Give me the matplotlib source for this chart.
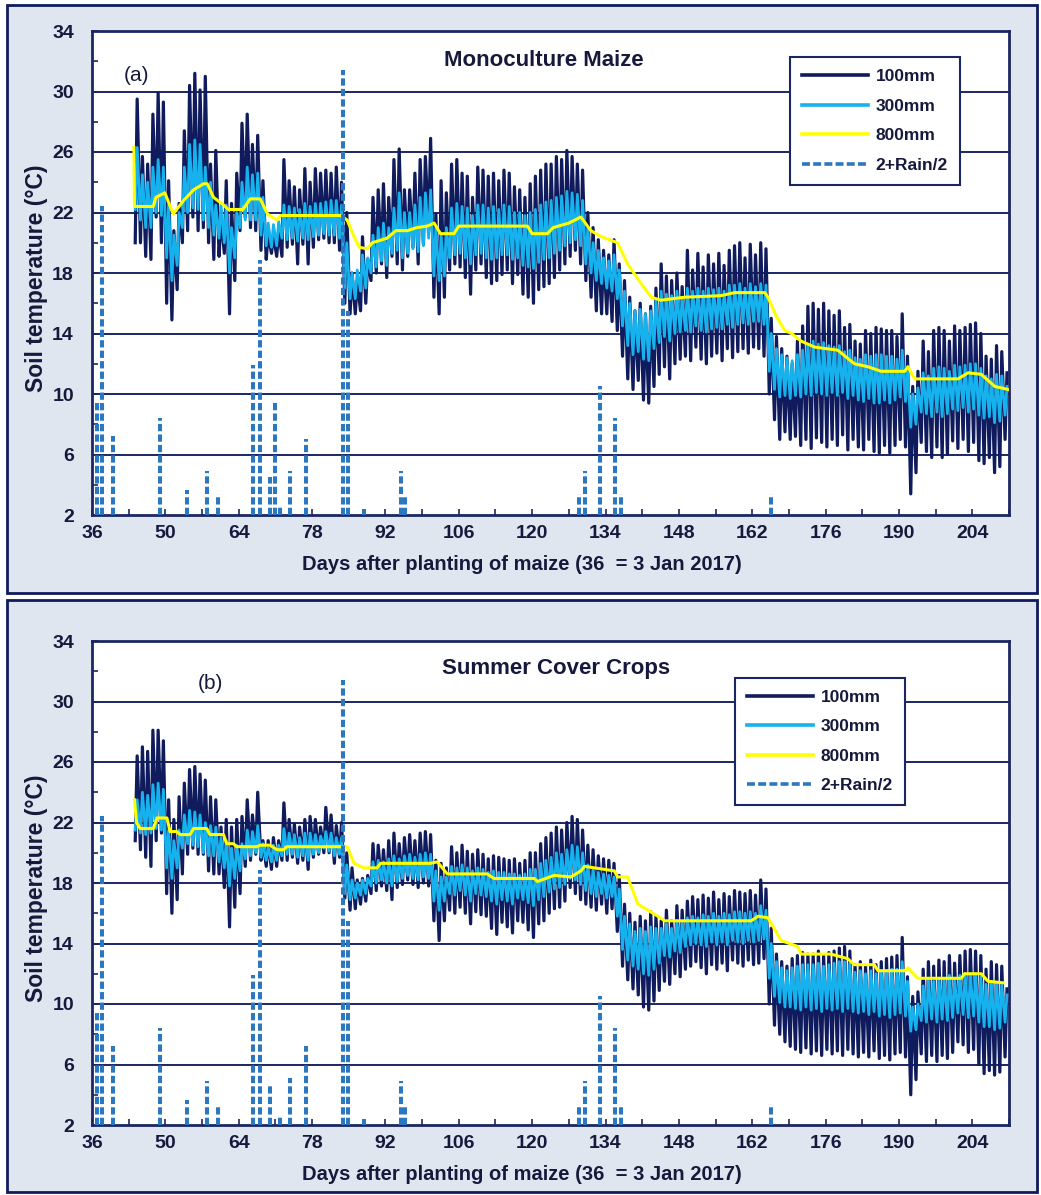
import matplotlib
matplotlib.use("Agg")
import matplotlib.pyplot as plt
import numpy as np
from matplotlib.lines import Line2D
from matplotlib.patches import Rectangle

plt.rcParams['font.family'] = ['Liberation Sans', 'DejaVu Sans']
plt.rcParams['font.weight'] = 'bold'
plt.rcParams['axes.labelweight'] = 'bold'

# colours
NAVY = '#0f1b5c'
GRID = '#1b2762'
TEXT = '#151a3c'
LBLUE = '#16b2ee'
YELLOW = '#ffff00'
RAIN = '#2b77c0'
PANEL_BG = '#dfe6f0'

# days with soil temperature data (daily min / max)
DAYS = np.arange(44, 211)

# ---- (a) Monoculture Maize ----
A_MAX_100 = [29.5, 25.7, 25.2, 28.5, 29.9, 29.3, 24.1, 20.8, 22.6, 27.4,
             30.4, 31.2, 30.1, 31.0, 25.2, 26.1, 21.7, 24.1, 22.6, 24.6,
             27.9, 28.5, 26.5, 27.1, 24.1, 20.6, 20.5, 20.8, 25.5, 24.1,
             23.7, 23.5, 24.9, 24.0, 24.9, 24.6, 24.8, 24.6, 25.0, 24.0,
             22.0, 18.0, 17.5, 20.4, 18.9, 23.0, 23.5, 23.9, 23.0, 25.5,
             26.2, 23.5, 23.5, 24.6, 25.5, 25.7, 26.9, 21.9, 24.1, 23.3,
             25.2, 25.5, 24.6, 24.4, 23.0, 25.0, 24.8, 24.4, 24.6, 24.1,
             24.8, 24.6, 23.7, 23.5, 23.0, 23.9, 24.4, 24.8, 25.2, 25.2,
             25.7, 25.5, 26.1, 25.7, 25.2, 24.8, 22.0, 21.0, 20.2, 19.5,
             19.2, 20.2, 18.6, 17.5, 16.4, 15.5, 16.0, 15.3, 15.8, 17.0,
             18.6, 17.8, 17.5, 18.0, 17.1, 19.5, 18.2, 19.3, 18.4, 19.2,
             18.6, 19.3, 18.5, 19.5, 19.8, 20.0, 19.0, 19.9, 19.2, 20.0,
             19.6, 15.0, 13.8, 13.0, 12.5, 12.0, 13.5, 14.5, 15.8, 16.0,
             15.6, 16.0, 15.5, 15.2, 15.5, 14.4, 14.6, 13.5, 13.3, 14.2,
             14.0, 14.4, 14.3, 14.2, 14.2, 13.8, 15.3, 12.5, 10.5, 11.5,
             13.5, 12.8, 14.2, 14.4, 14.2, 13.5, 14.5, 14.2, 14.4, 14.6,
             14.7, 14.0, 12.5, 12.3, 13.2, 12.8, 11.4]
A_MIN_100 = [20.0, 20.0, 19.1, 18.9, 21.7, 20.0, 16.0, 14.9, 16.9, 20.0,
             20.8, 21.7, 20.8, 21.0, 20.0, 18.9, 19.1, 19.3, 15.3, 17.5,
             20.8, 21.7, 21.0, 20.8, 19.5, 18.9, 19.3, 19.1, 19.1, 19.7,
             19.9, 18.6, 19.9, 18.6, 19.7, 20.2, 20.3, 20.0, 20.0, 19.5,
             16.0, 15.3, 15.3, 15.5, 16.0, 17.5, 18.0, 18.6, 17.7, 19.1,
             18.6, 18.2, 19.1, 19.7, 18.6, 19.9, 20.8, 16.4, 15.3, 16.4,
             18.2, 18.6, 18.4, 17.7, 16.6, 18.2, 18.6, 17.7, 17.3, 17.5,
             17.9, 18.2, 17.3, 17.9, 16.6, 16.4, 16.0, 16.9, 17.1, 17.3,
             17.7, 18.2, 18.6, 19.1, 19.5, 18.6, 17.5, 16.4, 15.5, 15.3,
             15.3, 14.8, 14.2, 12.5, 11.0, 10.3, 10.9, 9.6, 9.4, 10.5,
             11.3, 11.8, 11.0, 12.0, 12.3, 12.5, 12.2, 13.1, 12.3, 12.0,
             12.5, 12.7, 12.2, 13.0, 12.4, 12.8, 13.0, 12.7, 13.1, 13.0,
             12.5, 10.0, 8.3, 7.0, 7.5, 7.0, 7.2, 6.6, 7.0, 6.4,
             7.1, 6.8, 6.5, 7.0, 6.6, 7.3, 6.3, 7.0, 6.5, 6.3,
             7.0, 6.2, 6.1, 6.6, 6.1, 6.6, 7.0, 6.5, 3.4, 4.8,
             6.8, 6.2, 5.8, 6.5, 5.8, 6.0, 6.9, 6.4, 7.0, 6.2,
             6.8, 5.6, 5.4, 5.8, 4.8, 5.2, 7.0]
A_MAX_300 = [26.3, 24.5, 24.0, 25.0, 25.5, 25.0, 22.5, 20.5, 22.0, 25.0,
             26.5, 26.8, 26.5, 25.0, 24.0, 22.5, 22.5, 22.5, 21.0, 22.0,
             24.0, 25.0, 24.5, 24.6, 23.0, 21.3, 21.2, 21.4, 22.5, 22.4,
             22.3, 22.2, 22.6, 22.4, 22.6, 22.6, 22.7, 22.8, 22.8, 22.5,
             20.0, 18.0, 18.2, 19.2, 19.0, 20.5, 21.0, 21.3, 21.0, 22.3,
             23.3, 22.0, 22.0, 22.5, 23.0, 23.3, 23.5, 21.0, 20.5, 21.0,
             22.3, 22.6, 22.4, 22.3, 21.8, 22.5, 22.5, 22.3, 22.4, 22.2,
             22.5, 22.4, 22.0, 22.0, 21.8, 22.0, 22.2, 22.5, 22.7, 22.8,
             23.0, 23.1, 23.4, 23.3, 23.2, 22.8, 21.0, 20.0, 19.5, 19.0,
             18.8, 19.2, 18.2, 16.8, 16.0, 15.5, 15.6, 15.3, 15.5, 16.2,
             16.8, 16.6, 16.5, 16.8, 16.4, 17.0, 16.8, 17.0, 16.8, 17.0,
             16.9, 17.0, 16.8, 17.2, 17.2, 17.3, 17.0, 17.3, 17.1, 17.3,
             17.2, 14.0, 13.0, 12.6, 12.4, 12.2, 12.6, 12.9, 13.3, 13.5,
             13.3, 13.4, 13.2, 13.1, 13.2, 12.8, 12.9, 12.4, 12.3, 12.6,
             12.5, 12.6, 12.6, 12.5, 12.5, 12.3, 12.9, 11.8, 10.0, 10.4,
             11.4, 11.2, 11.7, 11.8, 11.7, 11.5, 11.9, 11.8, 11.9, 12.0,
             12.0, 11.7, 11.2, 11.0, 11.3, 11.2, 10.5]
A_MIN_300 = [22.2, 21.5, 21.0, 21.0, 22.0, 21.8, 19.0, 17.5, 18.5, 21.0,
             22.0, 22.3, 22.2, 21.5, 21.0, 20.5, 20.3, 20.0, 18.0, 19.0,
             21.0, 21.5, 21.5, 21.5, 20.5, 19.8, 19.7, 19.8, 20.3, 20.2,
             20.3, 20.1, 20.3, 20.2, 20.4, 20.5, 20.6, 20.5, 20.5, 20.3,
             17.0, 16.3, 16.3, 16.8, 17.0, 18.0, 18.4, 18.8, 18.5, 19.3,
             19.5, 19.0, 19.3, 19.6, 19.4, 19.8, 20.3, 17.8, 17.5, 17.8,
             19.0, 19.2, 19.3, 19.0, 18.6, 19.2, 19.3, 19.0, 18.9, 19.0,
             19.2, 19.2, 18.9, 19.0, 18.5, 18.4, 18.3, 18.7, 18.9, 19.0,
             19.3, 19.5, 19.8, 20.0, 20.2, 19.8, 18.6, 18.0, 17.5, 17.3,
             17.0, 16.8, 16.3, 14.5, 13.2, 12.6, 12.8, 12.3, 12.2, 13.0,
             13.4, 13.8, 13.5, 14.0, 14.1, 14.2, 14.1, 14.5, 14.2, 14.1,
             14.3, 14.4, 14.3, 14.6, 14.4, 14.6, 14.7, 14.6, 14.8, 14.8,
             14.6, 11.5, 10.3, 9.8, 9.9, 9.7, 9.9, 9.8, 10.0, 9.9,
             10.1, 10.0, 9.9, 10.1, 9.9, 10.1, 9.7, 9.9, 9.6, 9.5,
             9.7, 9.4, 9.4, 9.6, 9.4, 9.6, 9.8, 9.5, 7.8, 8.0,
             8.8, 8.7, 8.5, 8.8, 8.5, 8.7, 9.0, 8.9, 9.1, 8.8,
             9.0, 8.6, 8.4, 8.5, 8.1, 8.2, 8.6]
A_DAY_800 = [44.0, 44.1, 47.7, 48.2, 49.9, 51.5, 53.5, 55.4, 57.3, 58.0,
             59.2, 61.1, 62.0, 64.8, 66.2, 68.1, 69.5, 71.3, 72.0, 83.4,
             84.7, 86.0, 87.0, 88.5, 89.5, 92.3, 94.0, 96.2, 98.0, 100.0,
             101.3, 102.5, 105.1, 106.0, 119.1, 120.0, 122.9, 124.0, 127.0, 129.3,
             131.2, 133.2, 136.3, 138.2, 140.8, 142.7, 144.6, 149.1, 156.0, 158.6,
             164.4, 165.0, 166.5, 168.2, 169.5, 171.3, 173.9, 178.3, 181.5, 184.1,
             186.6, 191.1, 191.7, 193.0, 201.3, 203.2, 205.7, 208.3, 210.8]
A_VAL_800 = [26.3, 22.4, 22.4, 23.0, 23.3, 21.9, 22.8, 23.5, 23.9, 23.9,
             23.0, 22.5, 22.2, 22.2, 22.9, 22.9, 21.9, 21.5, 21.8, 21.8,
             21.5, 20.4, 19.7, 19.6, 20.0, 20.3, 20.8, 20.8, 21.0, 21.1,
             21.3, 20.6, 20.6, 21.1, 21.1, 20.6, 20.6, 21.0, 21.3, 21.7,
             20.8, 20.4, 20.0, 18.6, 17.3, 16.4, 16.2, 16.4, 16.5, 16.7,
             16.7, 16.4, 15.2, 14.2, 14.0, 13.5, 13.1, 12.9, 12.0, 11.8,
             11.5, 11.5, 11.8, 11.0, 11.0, 11.4, 11.3, 10.5, 10.3]

# ---- (b) Summer Cover Crops ----
B_MAX_100 = [26.4, 27.0, 26.7, 28.1, 28.1, 27.4, 23.5, 22.2, 23.7, 24.6,
             25.5, 25.7, 25.2, 24.8, 23.7, 23.5, 21.7, 22.2, 21.7, 22.2,
             22.4, 23.5, 22.5, 24.0, 20.8, 20.8, 21.0, 20.8, 23.3, 22.2,
             21.9, 21.7, 22.2, 22.4, 22.2, 21.7, 23.0, 22.5, 21.8, 22.0,
             20.0, 19.0, 18.2, 18.3, 18.5, 20.6, 20.5, 20.2, 20.8, 21.3,
             20.6, 21.0, 21.2, 20.8, 21.3, 21.4, 21.2, 19.5, 19.3, 19.0,
             20.4, 20.0, 20.5, 20.1, 19.9, 20.2, 19.9, 19.6, 19.8, 19.7,
             19.6, 19.5, 19.6, 19.3, 19.5, 20.0, 20.0, 20.6, 21.0, 21.3,
             21.7, 21.5, 22.0, 22.4, 22.2, 21.5, 20.5, 20.2, 19.8, 19.6,
             19.5, 19.3, 18.5, 16.6, 16.0, 15.4, 15.8, 15.5, 16.1, 15.8,
             15.5, 16.2, 15.5, 16.5, 16.2, 16.8, 17.1, 16.9, 17.2, 17.0,
             17.4, 16.9, 17.3, 17.1, 17.5, 17.4, 17.3, 17.5, 17.2, 18.2,
             17.6, 15.0, 13.3, 12.8, 12.5, 13.0, 13.2, 13.4, 13.3, 13.3,
             13.5, 13.2, 13.4, 13.5, 13.7, 13.8, 13.5, 12.6, 12.8, 12.5,
             12.9, 12.6, 12.8, 13.0, 13.1, 13.2, 14.4, 11.8, 10.5, 10.8,
             12.3, 12.8, 12.5, 12.9, 12.8, 13.2, 12.7, 13.2, 13.5, 13.6,
             13.5, 13.2, 12.3, 12.8, 12.6, 12.5, 11.0]
B_MIN_100 = [20.8, 20.2, 19.7, 19.1, 20.8, 21.3, 17.3, 16.0, 16.9, 18.6,
             19.9, 20.3, 19.9, 19.9, 18.8, 18.6, 18.6, 17.7, 15.1, 16.4,
             17.3, 19.1, 19.5, 19.9, 19.5, 19.1, 18.9, 19.1, 19.5, 19.5,
             19.7, 19.3, 19.5, 18.9, 19.7, 19.9, 20.0, 20.0, 19.3, 19.7,
             17.0, 16.2, 16.3, 16.6, 16.8, 17.3, 17.5, 17.8, 17.5, 16.9,
             17.7, 17.9, 18.2, 17.9, 17.7, 18.0, 17.8, 15.5, 14.2, 15.5,
             16.2, 16.0, 16.4, 16.0, 15.3, 16.1, 15.9, 15.8, 15.0, 14.6,
             15.4, 15.1, 14.7, 15.5, 15.4, 14.9, 14.4, 15.3, 15.5, 16.0,
             16.3, 16.4, 16.8, 17.7, 17.3, 16.9, 16.6, 16.4, 16.2, 16.6,
             16.0, 16.3, 14.8, 12.5, 11.6, 11.0, 10.6, 9.8, 9.6, 10.2,
             10.9, 11.5, 11.3, 12.0, 11.8, 12.3, 12.5, 12.8, 12.4, 12.0,
             12.6, 12.3, 12.7, 12.2, 12.9, 12.7, 12.5, 12.9, 12.6, 12.7,
             13.0, 10.0, 8.6, 8.0, 7.5, 7.2, 7.0, 6.8, 7.1, 6.7,
             6.9, 6.6, 7.0, 6.7, 6.9, 6.6, 7.0, 6.7, 6.5, 6.8,
             6.5, 6.9, 6.4, 6.6, 6.3, 6.7, 6.8, 6.5, 4.0, 5.0,
             6.7, 6.2, 6.6, 6.2, 6.6, 6.4, 6.8, 7.5, 7.3, 6.8,
             7.0, 6.0, 5.4, 5.6, 5.3, 5.5, 6.5]
B_MAX_300 = [23.5, 24.0, 23.8, 24.5, 24.6, 24.2, 21.5, 20.8, 21.5, 22.5,
             22.8, 22.7, 22.5, 22.0, 21.8, 21.7, 21.0, 20.8, 20.3, 20.5,
             20.6, 21.5, 21.4, 21.8, 20.6, 20.4, 20.5, 20.5, 21.6, 21.3,
             21.2, 21.0, 21.3, 21.3, 21.2, 21.1, 21.4, 21.3, 21.0, 21.0,
             19.2, 18.2, 18.0, 18.2, 18.3, 19.4, 19.5, 19.4, 19.6, 19.8,
             19.6, 19.8, 19.9, 19.7, 19.9, 20.0, 19.9, 18.8, 18.4, 18.4,
             19.1, 19.0, 19.2, 19.0, 18.8, 19.0, 18.9, 18.7, 18.8, 18.7,
             18.7, 18.6, 18.6, 18.5, 18.6, 18.9, 18.9, 19.3, 19.5, 19.7,
             20.0, 19.9, 20.2, 20.5, 20.4, 20.0, 19.2, 18.9, 18.7, 18.6,
             18.5, 18.4, 17.6, 15.8, 15.3, 14.8, 15.0, 14.8, 15.1, 15.0,
             15.0, 15.3, 15.0, 15.5, 15.4, 15.7, 15.8, 15.7, 15.9, 15.8,
             16.0, 15.8, 16.0, 15.9, 16.1, 16.1, 16.0, 16.1, 16.0, 16.5,
             16.2, 14.0, 12.8, 12.4, 12.2, 12.4, 12.5, 12.6, 12.6, 12.6,
             12.7, 12.5, 12.6, 12.7, 12.8, 12.8, 12.7, 12.1, 12.2, 12.0,
             12.2, 12.0, 12.1, 12.2, 12.3, 12.3, 12.8, 11.5, 9.8, 10.0,
             11.2, 11.6, 11.5, 11.7, 11.7, 11.9, 11.6, 11.9, 12.0, 12.0,
             12.0, 11.8, 11.3, 11.5, 11.4, 11.3, 10.6]
B_MIN_300 = [21.5, 21.3, 21.2, 21.3, 21.6, 21.5, 19.0, 18.3, 19.0, 20.3,
             20.6, 20.5, 20.4, 20.0, 19.8, 19.8, 19.4, 19.0, 17.8, 18.3,
             18.8, 19.6, 19.8, 20.0, 19.7, 19.5, 19.4, 19.5, 19.8, 19.9,
             19.9, 19.7, 19.8, 19.5, 19.9, 20.0, 20.3, 20.1, 19.8, 19.9,
             17.3, 16.9, 17.0, 17.2, 17.3, 17.8, 18.0, 18.2, 18.0, 17.8,
             18.1, 18.3, 18.5, 18.3, 18.2, 18.4, 18.3, 16.8, 16.2, 16.8,
             17.3, 17.2, 17.5, 17.2, 16.8, 17.3, 17.2, 17.1, 16.8, 16.6,
             16.9, 16.8, 16.6, 17.0, 16.9, 16.7, 16.5, 16.9, 17.1, 17.4,
             17.6, 17.7, 17.9, 18.3, 18.2, 17.9, 17.5, 17.3, 17.1, 17.3,
             17.0, 17.1, 15.8, 13.6, 12.9, 12.5, 12.3, 12.0, 11.9, 12.3,
             12.7, 13.2, 13.1, 13.5, 13.4, 13.8, 13.9, 14.0, 13.9, 13.8,
             14.1, 13.9, 14.1, 13.9, 14.2, 14.1, 14.0, 14.2, 14.1, 14.2,
             14.3, 11.7, 10.5, 10.1, 9.8, 9.8, 9.7, 9.6, 9.8, 9.6,
             9.7, 9.5, 9.7, 9.6, 9.7, 9.5, 9.7, 9.5, 9.4, 9.5,
             9.3, 9.5, 9.2, 9.3, 9.1, 9.3, 9.4, 9.2, 8.2, 8.3,
             8.9, 8.8, 9.0, 8.8, 9.0, 8.9, 9.1, 9.4, 9.3, 9.1,
             9.2, 8.8, 8.5, 8.5, 8.3, 8.4, 8.8]
B_DAY_800 = [44.1, 44.5, 45.2, 47.7, 48.4, 50.3, 50.9, 52.2, 52.8, 54.7,
             55.4, 57.9, 58.5, 61.1, 61.7, 63.0, 63.6, 67.5, 68.1, 70.0,
             71.3, 72.6, 73.2, 84.7, 86.0, 87.9, 90.4, 91.1, 100.6, 101.9,
             103.8, 111.4, 112.7, 120.4, 121.0, 124.2, 127.4, 129.3, 130.0, 135.7,
             136.3, 138.2, 140.2, 144.0, 145.3, 161.8, 163.1, 165.0, 167.5, 170.7,
             171.3, 177.0, 180.2, 181.5, 185.3, 186.0, 191.1, 191.7, 193.6, 201.9,
             202.5, 205.7, 207.0, 209.9]
B_VAL_800 = [23.5, 22.0, 21.6, 21.6, 22.3, 22.3, 21.4, 21.4, 21.2, 21.2,
             21.6, 21.6, 21.2, 21.2, 20.6, 20.6, 20.4, 20.4, 20.5, 20.5,
             20.2, 20.2, 20.4, 20.4, 19.3, 19.0, 19.0, 19.3, 19.3, 19.4,
             18.6, 18.6, 18.3, 18.3, 18.1, 18.5, 18.4, 18.8, 19.1, 18.8,
             18.4, 18.4, 16.6, 15.8, 15.5, 15.5, 15.8, 15.7, 14.2, 13.8,
             13.3, 13.3, 13.0, 12.6, 12.6, 12.2, 12.2, 12.4, 11.7, 11.7,
             12.0, 12.0, 11.5, 11.4]

# rain, plotted as 2 + Rain/2
RAIN_DAY = [36.9, 38.0, 40.1, 49.0, 54.1, 57.9, 60.1, 66.8, 68.0, 70.0,
            71.0, 71.9, 73.8, 76.9, 83.9, 84.8, 87.9, 94.9, 95.8, 129.0,
            130.0, 133.0, 135.8, 136.9, 165.6]
A_RAIN = [9.6, 22.4, 7.2, 8.4, 3.65, 4.9, 3.4, 11.9, 18.85, 4.5,
          9.5, 2.55, 4.9, 7.0, 31.45, 15.5, 2.4, 4.9, 3.4, 3.4,
          4.9, 10.5, 8.4, 3.4, 3.4]
B_RAIN = [9.6, 22.4, 7.2, 8.4, 3.65, 4.9, 3.4, 11.9, 18.85, 4.6,
          2.0, 2.55, 5.1, 7.2, 31.45, 15.5, 2.4, 4.9, 3.4, 3.4,
          4.9, 10.5, 8.4, 3.4, 3.4]

W, H = 1041, 1195


def zigzag(lo, hi):
    # daily minimum in the early morning, maximum in the afternoon
    x = np.empty(2 * len(DAYS))
    y = np.empty(2 * len(DAYS))
    x[0::2] = DAYS + 0.25
    x[1::2] = DAYS + 0.62
    y[0::2] = lo
    y[1::2] = hi
    return x, y


def draw_panel(ax, hi100, lo100, hi300, lo300, d800, t800, rain,
               title, tag, title_xy, tag_xy, leg_xy):
    ax.set_facecolor('white')
    for yv in range(6, 34, 4):
        ax.axhline(yv, color=GRID, lw=1.4, zorder=1)

    x, y = zigzag(lo100, hi100)
    ax.plot(x, y, color=NAVY, lw=2.3, zorder=2)
    x, y = zigzag(lo300, hi300)
    ax.plot(x, y, color=LBLUE, lw=2.0, zorder=3)
    ax.plot(d800, t800, color=YELLOW, lw=2.2, zorder=4)
    ax.vlines(RAIN_DAY, 2, rain, colors=RAIN, linestyles=(0, (1.8, 0.8)),
              lw=2.9, zorder=5)

    ax.set_xlim(36, 211)
    ax.set_ylim(2, 34)
    ax.set_xticks(np.arange(36, 212, 14))
    ax.set_xticks(np.arange(36, 212, 7), minor=True)
    ax.set_yticks(np.arange(2, 35, 4))
    ax.set_yticks(np.arange(4, 34, 4), minor=True)
    ax.tick_params(which='both', direction='in', length=4, width=1.2,
                   color=GRID, labelcolor=TEXT, labelsize=14)
    ax.tick_params(axis='x', which='both', pad=7)
    ax.tick_params(axis='y', which='both', pad=13)
    for sp in ax.spines.values():
        sp.set_color(GRID)
        sp.set_linewidth(2)

    ax.set_ylabel('Soil temperature (°C)', fontsize=16.5, color=TEXT,
                  fontweight='bold', va='center')
    ax.yaxis.set_label_coords(-0.060, 0.49)
    ax.set_xlabel('Days after planting of maize (36  = 3 Jan 2017)',
                  fontsize=14.5, color=TEXT, fontweight='bold', va='center')
    ax.xaxis.set_label_coords(0.469, -0.103)

    ax.text(*title_xy, title, transform=ax.transAxes, ha='center',
            va='center', fontsize=16, color=TEXT)
    ax.text(*tag_xy, tag, transform=ax.transAxes, ha='center',
            va='center', fontsize=15, fontweight='normal', color=TEXT)

    handles = [Line2D([], [], color=NAVY, lw=2.6),
               Line2D([], [], color=LBLUE, lw=2.6),
               Line2D([], [], color=YELLOW, lw=2.6),
               Line2D([], [], color=RAIN, lw=2.6, linestyle=(0, (2.2, 0.9)))]
    leg = ax.legend(handles, ['100mm', '300mm', '800mm', '2+Rain/2'],
                    loc='upper left', bbox_to_anchor=leg_xy,
                    borderaxespad=0, fontsize=12.5, handlelength=3.8,
                    handletextpad=0.45, labelspacing=0.82, borderpad=0.7,
                    fancybox=False, framealpha=1, edgecolor=GRID)
    leg.get_frame().set_linewidth(1.5)
    for t in leg.get_texts():
        t.set_color(TEXT)
    leg.set_zorder(10)


fig = plt.figure(figsize=(W / 100, H / 100), dpi=100)

# light panel backgrounds with navy frame
for top, bottom in [(5, 593), (600, 1192)]:
    fig.add_artist(Rectangle((7 / W, 1 - bottom / H), 1030 / W,
                             (bottom - top) / H, transform=fig.transFigure,
                             facecolor=PANEL_BG, edgecolor=NAVY, lw=2,
                             zorder=-5))

ax_a = fig.add_axes([92 / W, 1 - 515 / H, 917 / W, 484 / H])
ax_b = fig.add_axes([92 / W, 1 - 1125 / H, 917 / W, 484 / H])

draw_panel(ax_a, A_MAX_100, A_MIN_100, A_MAX_300, A_MIN_300,
           A_DAY_800, A_VAL_800, A_RAIN, 'Monoculture Maize', '(a)',
           (0.493, 0.940), (0.049, 0.909), (0.761, 0.946))
draw_panel(ax_b, B_MAX_100, B_MIN_100, B_MAX_300, B_MIN_300,
           B_DAY_800, B_VAL_800, B_RAIN, 'Summer Cover Crops', '(b)',
           (0.506, 0.944), (0.129, 0.913), (0.701, 0.924))

fig.savefig('out.png', dpi=100)
